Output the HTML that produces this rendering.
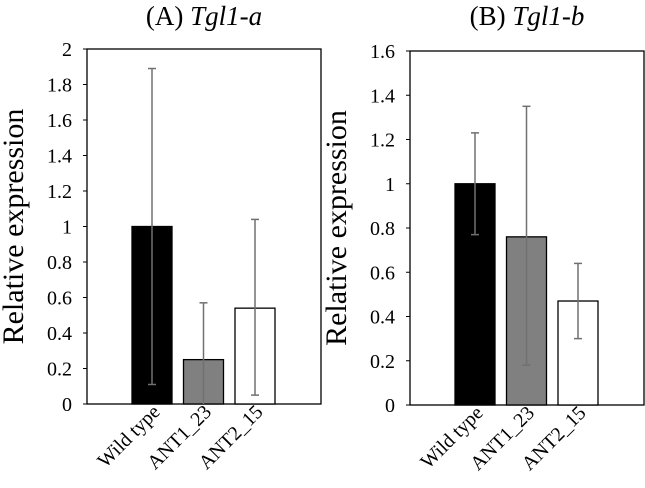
<!DOCTYPE html>
<html><head><meta charset="utf-8"><style>
body{margin:0;background:#fff;}
svg{display:block;font-family:"Liberation Serif",serif;}
</style></head><body>
<svg id="c" width="645" height="488"></svg>
<script>
const categories=["Wild type","ANT1_23","ANT2_15"];
const valuesA=[1.0,0.25,0.54];
const lowA=[0.11,0.0,0.05];
const highA=[1.89,0.57,1.04];
const ticksA=["0","0.2","0.4","0.6","0.8","1","1.2","1.4","1.6","1.8","2"];
const valuesB=[1.0,0.76,0.47];
const lowB=[0.77,0.18,0.30];
const highB=[1.23,1.35,0.64];
const ticksB=["0","0.2","0.4","0.6","0.8","1","1.2","1.4","1.6"];
const fills=["#000","#808080","#fff"];
const NS="http://www.w3.org/2000/svg";
const svg=document.getElementById('c');
function mk(t,a,p){const e=document.createElementNS(NS,t);for(const k in a)e.setAttribute(k,a[k]);(p||svg).appendChild(e);return e;}
function panel(id,x0,x1,y0,y1,max,ticks,vals,lo,hi,title,gene){
  const g=mk('g',{});
  
  
  const y=v=>y1-(v/max)*(y1-y0);
  const xc=i=>x0+65+i*51.5;
  const fr=mk('rect',{x:x0,y:y0,width:x1-x0,height:y1-y0,fill:'none',stroke:'#000','stroke-width':1.3},g);
  
  
  ticks.forEach(t=>{const v=parseFloat(t);
    mk('line',{x1:x0-4,x2:x0,y1:y(v),y2:y(v),stroke:'#000'},g);
    const tx=mk('text',{x:x0-15,y:y(v)+7,'text-anchor':'end','font-size':20},g);tx.textContent=t;
    
    });
  vals.forEach((v,i)=>{
    const r=mk('rect',{x:xc(i)-20,y:y(v),width:40,height:y(0)-y(v),fill:fills[i],stroke:'#000','stroke-width':1.3},g);
    
    
    const e=mk('g',{stroke:'#707070','stroke-width':1.5},g);
    
    
    mk('line',{x1:xc(i),x2:xc(i),y1:y(lo[i]),y2:y(hi[i])},e);
    mk('line',{x1:xc(i)-4,x2:xc(i)+4,y1:y(hi[i]),y2:y(hi[i])},e);
    if(lo[i]>0)mk('line',{x1:xc(i)-4,x2:xc(i)+4,y1:y(lo[i]),y2:y(lo[i])},e);
    const lx=xc(i)+9,ly=y1+9;
    const t=mk('text',{x:lx,y:ly,'text-anchor':'end','font-size':20,transform:`rotate(-45 ${lx} ${ly})`},g);
    t.textContent=categories[i];
    
    
  });
  const yl=mk('text',{x:0,y:0,'text-anchor':'middle','font-size':30,transform:`translate(${x0-64},${(y0+y1)/2}) rotate(-90)`},g);
  yl.textContent='Relative expression';
  
  
  const tt=mk('text',{x:(x0+x1)/2,y:25,'text-anchor':'middle','font-size':27},g);
  
  
  tt.innerHTML=title+' <tspan font-style="italic">'+gene+'</tspan>';
}
panel('panel-a',87,321,49,404,2,ticksA,valuesA,lowA,highA,'(A)','Tgl1-a');
panel('panel-b',410,644,51,405,1.6,ticksB,valuesB,lowB,highB,'(B)','Tgl1-b');
</script>
</body></html>
